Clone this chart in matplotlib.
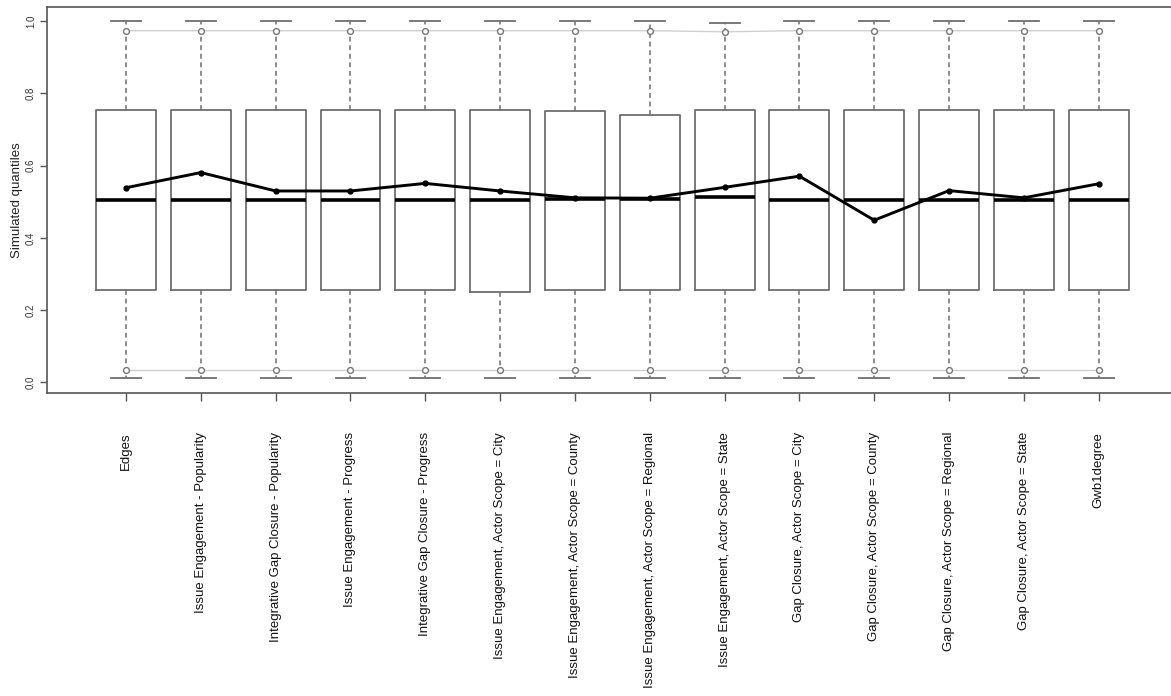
import matplotlib
matplotlib.use("Agg")
import matplotlib.pyplot as plt

plt.rcParams['font.family'] = ['Liberation Sans', 'DejaVu Sans']

# Model terms (one box per term)
terms = [
    "Edges",
    "Issue Engagement - Popularity",
    "Integrative Gap Closure - Popularity",
    "Issue Engagement - Progress",
    "Integrative Gap Closure - Progress",
    "Issue Engagement, Actor Scope = City",
    "Issue Engagement, Actor Scope = County",
    "Issue Engagement, Actor Scope = Regional",
    "Issue Engagement, Actor Scope = State",
    "Gap Closure, Actor Scope = City",
    "Gap Closure, Actor Scope = County",
    "Gap Closure, Actor Scope = Regional",
    "Gap Closure, Actor Scope = State",
    "Gwb1degree",
]

# Five-number summaries of the simulated quantiles
whisker_low = [0.011] * 14
q1 = [0.256, 0.256, 0.256, 0.256, 0.256, 0.250, 0.256,
      0.256, 0.256, 0.256, 0.256, 0.256, 0.256, 0.256]
median = [0.505, 0.505, 0.505, 0.505, 0.505, 0.505, 0.507,
          0.507, 0.512, 0.505, 0.505, 0.505, 0.505, 0.505]
q3 = [0.755, 0.755, 0.755, 0.755, 0.755, 0.755, 0.752,
      0.740, 0.755, 0.755, 0.755, 0.755, 0.755, 0.755]
whisker_high = [1.0, 1.0, 1.0, 1.0, 1.0, 1.0, 1.0,
                1.0, 0.994, 1.0, 1.0, 1.0, 1.0, 1.0]

# 2.5% / 97.5% bands
band_low = [0.035] * 14
band_high = [0.974, 0.974, 0.974, 0.974, 0.974, 0.974, 0.974,
             0.974, 0.971, 0.974, 0.974, 0.974, 0.974, 0.974]

# Observed quantiles
observed = [0.539, 0.581, 0.530, 0.530, 0.551, 0.530, 0.511,
            0.510, 0.540, 0.571, 0.449, 0.531, 0.511, 0.550]

W, H = 1171, 696
fig = plt.figure(figsize=(W / 100, H / 100), dpi=100)
left_px, right_px, top_px, bottom_px = 47, 1178, 7, 393
ax = fig.add_axes([left_px / W, 1 - bottom_px / H,
                   (right_px - left_px) / W, (bottom_px - top_px) / H])

positions = list(range(1, len(terms) + 1))
stats = []
for i in range(len(terms)):
    stats.append(dict(whislo=whisker_low[i], q1=q1[i], med=median[i],
                      q3=q3[i], whishi=whisker_high[i], fliers=[]))

edge = "#6e6e6e"
ax.bxp(stats, positions=positions, widths=0.8, showfliers=False,
       boxprops=dict(color=edge, linewidth=1.3),
       whiskerprops=dict(color=edge, linewidth=1.1, linestyle=(0, (3.2, 2.4))),
       capprops=dict(color=edge, linewidth=1.3),
       medianprops=dict(color="black", linewidth=2.6, solid_capstyle="butt"),
       capwidths=0.4, zorder=2)

# quantile bands
for band in (band_low, band_high):
    ax.plot(positions, band, color="#cfcfcf", linewidth=1.0, zorder=1)
    ax.plot(positions, band, linestyle="none", marker="o", markersize=4.2,
            markerfacecolor="white", markeredgecolor="#777777",
            markeredgewidth=1.0, zorder=3)

# observed values
ax.plot(positions, observed, color="black", linewidth=2.1, marker="o",
        markersize=3.5, zorder=4)

ax.set_xlim(-0.056, 15.06)
ax.set_ylim(-0.0296, 1.0396)
ax.set_yticks([0.0, 0.2, 0.4, 0.6, 0.8, 1.0])
ax.set_yticklabels(["0.0", "0.2", "0.4", "0.6", "0.8", "1.0"],
                   rotation=90, va="center", fontsize=7, color="#333333")
ax.set_xticks(positions)
ax.set_xticklabels(terms, rotation=90, fontsize=9.5, va="top", ha="center",
                   color="#111111")
ax.tick_params(axis="x", length=6, width=1.0, color="#555555", pad=22)
ax.tick_params(axis="y", length=5, width=1.0, color="#555555", pad=3)
ax.set_ylabel("Simulated quantiles", fontsize=9.5, color="#222222", labelpad=2)

for s in ax.spines.values():
    s.set_color("#555555")
    s.set_linewidth(1.2)

fig.savefig("out.png", dpi=100)
